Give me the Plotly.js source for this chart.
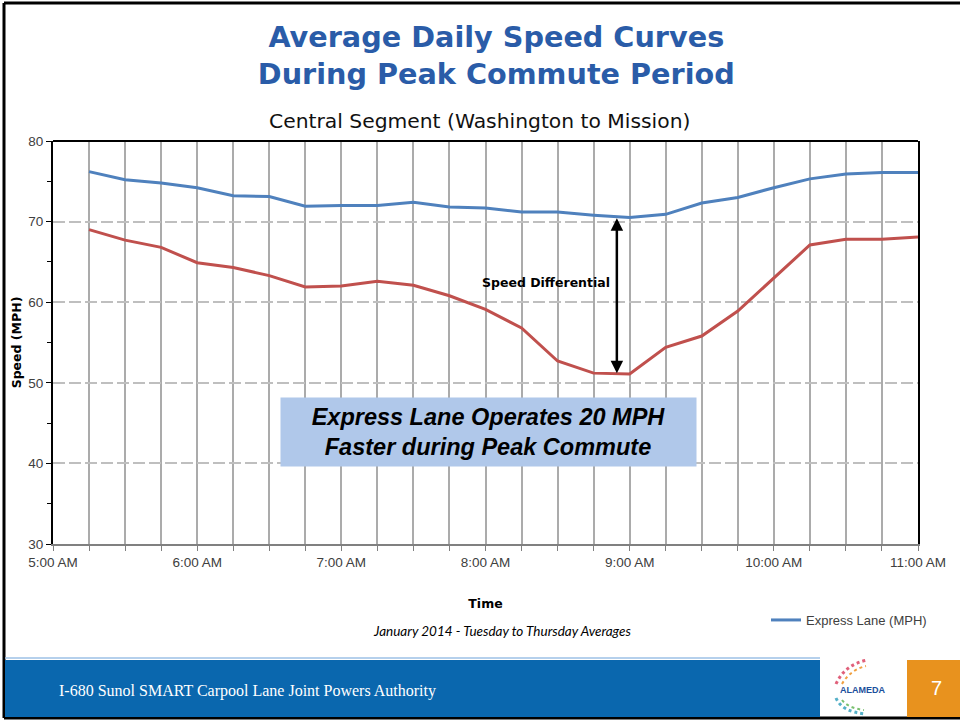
<!DOCTYPE html>
<html>
<head>
<meta charset="utf-8">
<script src="https://cdn.plot.ly/plotly-3.0.1.min.js"></script>
<style>
  html, body { margin: 0; padding: 0; background: #ffffff; }
  #chart { width: 960px; height: 723px; }
</style>
</head>
<body>
<div id="chart"></div>
<script>
// ---------------- data ----------------
const day = '2014-01-14';
const times = ['05:15','05:30','05:45','06:00','06:15','06:30','06:45','07:00',
               '07:15','07:30','07:45','08:00','08:15','08:30','08:45','09:00',
               '09:15','09:30','09:45','10:00','10:15','10:30','10:45','11:00'];
const expressLane = [76.2, 75.2, 74.8, 74.2, 73.2, 73.1, 71.9, 72.0,
                     72.0, 72.4, 71.8, 71.7, 71.2, 71.2, 70.8, 70.5,
                     70.9, 72.3, 73.0, 74.2, 75.3, 75.9, 76.1, 76.1];
const generalLane = [69.0, 67.7, 66.8, 64.9, 64.3, 63.3, 61.9, 62.0,
                     62.6, 62.1, 60.8, 59.1, 56.8, 52.7, 51.2, 51.1,
                     54.4, 55.8, 58.9, 63.0, 67.1, 67.8, 67.8, 68.1];
const seriesNames = ['Express Lane (MPH)', 'General Purpose Lane (MPH)'];
const xRange = ['05:00', '11:00'];
const yRange = [30, 80];
const arrowTime = '08:54:40';
const arrowTop = 70.6;
const arrowBottom = 51.2;

const titleText = 'Average Daily Speed Curves<br>During Peak Commute Period';
const subtitleText = 'Central Segment (Washington to Mission)';
const yTitle = 'Speed (MPH)';
const xTitle = 'Time';
const noteText = 'January 2014 - Tuesday to Thursday Averages';
const diffLabel = 'Speed Differential';
const boxText = 'Express Lane Operates 20 MPH<br>Faster during Peak Commute';
const footerText = 'I-680 Sunol SMART Carpool Lane Joint Powers Authority';
const pageNumber = '7';
const logoText = 'ALAMEDA';

// ---------------- helpers (pixel -> paper) ----------------
const L = 53, R = 918, T = 141, B = 544;
const px = x => (x - L) / (R - L);
const py = y => (B - y) / (B - T);
const dt = t => day + ' ' + t;

const SANS = 'Liberation Sans, Arial, sans-serif';
const WIDE = 'DejaVu Sans, Verdana, sans-serif';

const traces = [
  {
    x: times.map(dt), y: expressLane, name: seriesNames[0],
    type: 'scatter', mode: 'lines',
    line: { color: '#4F81BD', width: 3 }, showlegend: true
  },
  {
    x: times.map(dt), y: generalLane, name: seriesNames[1],
    type: 'scatter', mode: 'lines',
    line: { color: '#C0504D', width: 3 }, showlegend: false
  }
];

function lineShape(x0, y0, x1, y1, color, width) {
  return { type: 'line', xref: 'paper', yref: 'paper',
           x0: px(x0), y0: py(y0), x1: px(x1), y1: py(y1),
           line: { color: color, width: width } };
}
function rectShape(x0, y0, x1, y1, fill) {
  return { type: 'rect', xref: 'paper', yref: 'paper',
           x0: px(x0), y0: py(y0), x1: px(x1), y1: py(y1),
           fillcolor: fill, line: { width: 0 } };
}
function arcShape(x0, y0, cx, cy, x1, y1, color, width) {
  return { type: 'path', xref: 'paper', yref: 'paper',
           path: 'M ' + px(x0) + ',' + py(y0) + ' Q ' + px(cx) + ',' + py(cy) + ' ' + px(x1) + ',' + py(y1),
           line: { color: color, width: width, dash: 'dot' } };
}

const shapes = [
  // plot frame top
  lineShape(53, 141, 918, 141, '#000000', 2),
  // slide border
  lineShape(4, 3, 960, 3, '#000000', 3),
  lineShape(4, 3, 4, 718, '#000000', 3),
  lineShape(4, 718, 960, 718, '#000000', 3),
  // footer
  lineShape(5, 658, 820, 658, '#9CC0E6', 1.5),
  rectShape(5, 660, 820, 717, '#0A67AE'),
  rectShape(907, 660, 960, 717, '#E8921E'),
  // logo arcs
  arcShape(836, 684, 845, 664, 868, 660, '#E0607A', 3),
  arcShape(842, 684, 850, 670, 866, 666, '#F0A040', 2),
  arcShape(836, 698, 842, 712, 866, 714, '#55B0C8', 3),
  arcShape(842, 700, 848, 708, 864, 710, '#7AC070', 2)
];

const annotations = [
  { text: subtitleText, xref: 'paper', yref: 'paper', x: px(479), y: py(121),
    xanchor: 'center', yanchor: 'middle', showarrow: false,
    font: { family: WIDE, size: 20.3, color: '#111111' } },
  { text: '<i>' + noteText + '</i>', xref: 'paper', yref: 'paper', x: px(502), y: py(631),
    xanchor: 'center', yanchor: 'middle', showarrow: false,
    font: { family: 'Lato, sans-serif', size: 13.5, color: '#000000' } },
  { text: '<b>' + diffLabel + '</b>', xref: 'x', yref: 'y', x: dt('08:25'), y: 62.4,
    xanchor: 'center', yanchor: 'middle', showarrow: false,
    font: { family: WIDE, size: 12.5, color: '#000000' } },
  { text: '', xref: 'x', yref: 'y', x: dt(arrowTime), y: arrowBottom,
    axref: 'x', ayref: 'y', ax: dt(arrowTime), ay: arrowTop,
    showarrow: true, arrowhead: 2, startarrowhead: 2, arrowside: 'end+start',
    arrowwidth: 2.5, arrowsize: 1, startarrowsize: 1, arrowcolor: '#000000' },
  { text: '<b><i>' + boxText + '</i></b>', xref: 'paper', yref: 'paper',
    x: px(488.5), y: py(432), xanchor: 'center', yanchor: 'middle', showarrow: false,
    width: 411, height: 64, borderpad: 2, bgcolor: '#B0C8EA', align: 'center',
    font: { family: SANS, size: 23.5, color: '#000000' } },
  { text: footerText, xref: 'paper', yref: 'paper', x: px(57), y: py(691),
    xanchor: 'left', yanchor: 'middle', showarrow: false,
    font: { family: 'Liberation Serif, serif', size: 16, color: '#ffffff' } },
  { text: pageNumber, xref: 'paper', yref: 'paper', x: px(937), y: py(688),
    xanchor: 'center', yanchor: 'middle', showarrow: false,
    font: { family: SANS, size: 20, color: '#ffffff' } },
  { text: '<b>' + logoText + '</b>', xref: 'paper', yref: 'paper', x: px(862), y: py(690),
    xanchor: 'center', yanchor: 'middle', showarrow: false,
    font: { family: SANS, size: 9, color: '#1B4F9C' } }
];

const layout = {
  width: 960, height: 723,
  margin: { l: L, r: 960 - R, t: T, b: 723 - B, pad: 0 },
  paper_bgcolor: '#ffffff', plot_bgcolor: '#ffffff',
  title: {
    text: '<b>' + titleText + '</b>',
    x: 492 / 960, xanchor: 'center', xref: 'paper',
    y: 1 - 47 / 723, yanchor: 'middle', yref: 'container',
    font: { family: WIDE, size: 28.7, color: '#2A5CA8' }
  },
  font: { family: SANS, size: 13, color: '#404040' },
  xaxis: {
    type: 'date', range: xRange.map(dt),
    dtick: 3600000, tick0: dt('05:00'), tickformat: '%-I:%M %p',
    ticks: 'outside', ticklen: 5, tickcolor: '#808080',
    showgrid: true, gridcolor: '#ABABAB', gridwidth: 1.5,
    minor: { dtick: 900000, tick0: dt('05:00'), showgrid: true, gridcolor: '#ABABAB',
             gridwidth: 1.5, ticks: 'outside', ticklen: 5, tickcolor: '#808080' },
    showline: true, linecolor: '#808080', linewidth: 2,
    zeroline: false,
    tickfont: { family: SANS, size: 13.5, color: '#404040' },
    title: { text: '<b>' + xTitle + '</b>', standoff: 30,
             font: { family: WIDE, size: 12.5, color: '#000000' } }
  },
  yaxis: {
    range: yRange, dtick: 10, tick0: 0,
    ticks: 'outside', ticklen: 5, tickcolor: '#000000',
    showgrid: true, gridcolor: '#BFBFBF', gridwidth: 1.5, griddash: '12px,4px',
    minor: { dtick: 5, ticks: 'outside', ticklen: 4, tickcolor: '#000000', showgrid: false },
    showline: true, linecolor: '#000000', linewidth: 2, mirror: true,
    zeroline: false,
    tickfont: { family: SANS, size: 13.5, color: '#404040' },
    title: { text: '<b>' + yTitle + '</b>', standoff: 4,
             font: { family: WIDE, size: 12.5, color: '#000000' } }
  },
  showlegend: true,
  legend: {
    x: px(766), y: py(620), xanchor: 'left', yanchor: 'middle',
    bgcolor: 'rgba(0,0,0,0)', itemwidth: 30,
    font: { family: SANS, size: 13, color: '#404040' }
  },
  shapes: shapes,
  annotations: annotations
};

Plotly.newPlot('chart', traces, layout, { displayModeBar: false, responsive: false });
</script>
</body>
</html>
